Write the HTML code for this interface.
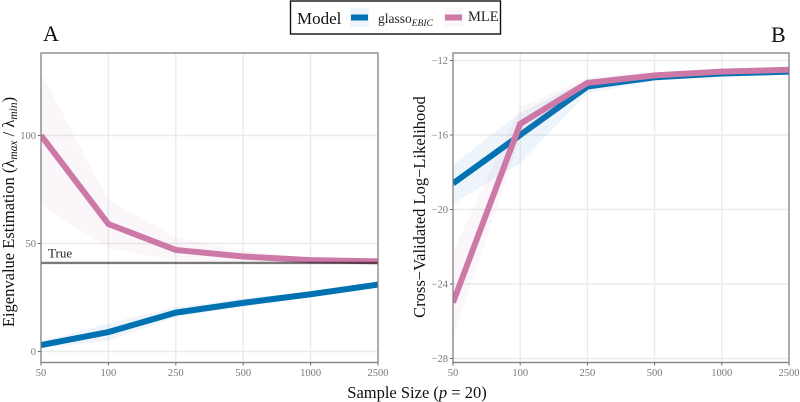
<!DOCTYPE html>
<html><head><meta charset="utf-8"><title>Eigenvalue estimation and log-likelihood</title>
<style>
html,body{margin:0;padding:0;background:#fff;width:800px;height:402px;overflow:hidden}
svg{display:block;font-family:"Liberation Serif",serif;filter:blur(0.35px)}
</style></head>
<body>
<svg id="chart" width="800" height="402" viewBox="0 0 800 402" xmlns="http://www.w3.org/2000/svg">
<defs>
<clipPath id="clip-a"><rect x="41" y="53" width="337" height="309.5"/></clipPath>
<clipPath id="clip-b"><rect x="453" y="53" width="336" height="309.5"/></clipPath>
</defs>
<g>
<rect x="290.5" y="1" width="210" height="33" fill="#fff" stroke="#111" stroke-width="1.4"/>
<text x="297" y="24" font-size="17" fill="#111">Model</text>
<rect x="350" y="8" width="19" height="19" fill="#0072b2" opacity="0.07"/>
<rect x="351" y="14.5" width="17" height="6" fill="#0072b2"/>
<text x="378" y="23" font-size="13.5" fill="#222">glasso<tspan font-size="9.5" font-style="italic" dy="3">EBIC</tspan></text>
<rect x="444" y="8" width="19" height="19" fill="#cc79a7" opacity="0.07"/>
<rect x="445" y="14.5" width="17" height="6" fill="#cc79a7"/>
<text x="468" y="21" font-size="14.5" fill="#222">MLE</text>
</g>
<text x="43" y="41" font-size="22" fill="#111">A</text>
<text x="771" y="42" font-size="22" fill="#111">B</text>
<text transform="translate(14,212) rotate(-90)" text-anchor="middle" font-size="16.5" fill="#111">Eigenvalue Estimation (λ<tspan font-size="11.5" font-style="italic" dy="3">max</tspan><tspan dy="-3"> / λ</tspan><tspan font-size="11.5" font-style="italic" dy="3">min</tspan><tspan dy="-3">)</tspan></text>
<text transform="translate(425,207) rotate(-90)" text-anchor="middle" font-size="16.5" fill="#111">Cross−Validated Log−Likelihood</text>
<text x="417" y="398" text-anchor="middle" font-size="16.5" fill="#111">Sample Size (<tspan font-style="italic">p</tspan> = 20)</text>
<g id="plot-a"></g>
<g id="plot-b"></g>
</svg>
<script>
var sampleSizes = ['50', '100', '250', '500', '1000', '2500'];
var eigenTicks = [0, 50, 100];
var eigenTrue = 41;
var eigenGlasso = [3, 9, 18, 22.5, 26.5, 31];
var eigenGlassoLow = [1.5, 5, 16, 21, 25.3, 30];
var eigenGlassoHigh = [4.5, 13, 20.5, 24.5, 28, 32];
var eigenMle = [100, 59, 47, 44, 42.3, 41.7];
var eigenMleLow = [68, 48, 42, 41.3, 41, 41];
var eigenMleHigh = [129, 70, 53, 46.5, 43.5, 42.5];
var llTicks = [-12, -16, -20, -24, -28];
var llGlasso = [-18.6, -16, -13.4, -12.9, -12.7, -12.6];
var llGlassoLow = [-19.7, -17.5, -13.75, -13.1, -12.8, -12.65];
var llGlassoHigh = [-17.6, -14.8, -13.05, -12.75, -12.6, -12.5];
var llMle = [-25, -15.4, -13.2, -12.8, -12.6, -12.5];
var llMleLow = [-26.9, -16.2, -13.5, -12.95, -12.7, -12.6];
var llMleHigh = [-22.3, -14.5, -12.9, -12.65, -12.5, -12.4];

var NS = 'http://www.w3.org/2000/svg';
var GLASSO_COLOR = '#0072b2';
var MLE_COLOR = '#cc79a7';

function make(parent, tag, attrs, text) {
  var el = document.createElementNS(NS, tag);
  for (var k in attrs) el.setAttribute(k, attrs[k]);
  if (text !== undefined) el.textContent = text;
  parent.appendChild(el);
  return el;
}
function pointsOf(values, x, y) {
  return values.map(function (v, i) { return x(i).toFixed(2) + ',' + y(v).toFixed(2); });
}
function drawSeries(parent, key, color, values, low, high, x, y, clip) {
  var ribbon = make(parent, 'polygon', {
    points: pointsOf(high, x, y).concat(pointsOf(low, x, y).reverse()).join(' '),
    fill: color, opacity: 0.07, 'clip-path': clip
  });
  
  
  var line = make(parent, 'polyline', {
    points: pointsOf(values, x, y).join(' '),
    fill: 'none', stroke: color, 'stroke-width': 6, 'stroke-linejoin': 'miter', 'clip-path': clip
  });
  
  
}
function drawPanel(root, prefix, left, right, top, bottom, x, y, yTicks, labelFor) {
  var bg = make(root, 'rect', { x: left, y: top, width: right - left, height: bottom - top, fill: '#fff' });
  
  
  sampleSizes.forEach(function (label, i) {
    if (i > 0 && i < sampleSizes.length - 1) {
      var gx = make(root, 'line', { x1: x(i), x2: x(i), y1: top, y2: bottom, stroke: '#ebebeb', 'stroke-width': 1.4 });
      
      
    }
    var tick = make(root, 'line', { x1: x(i), x2: x(i), y1: bottom, y2: bottom + 3, stroke: '#666', 'stroke-width': 1 });
    
    
    var text = make(root, 'text', { x: x(i), y: bottom + 13.5, 'text-anchor': 'middle', 'font-size': 10.5, fill: '#777' }, label);
    
    
  });
  yTicks.forEach(function (v) {
    var gy = make(root, 'line', { x1: left, x2: right, y1: y(v), y2: y(v), stroke: '#ebebeb', 'stroke-width': 1.4 });
    
    
    var tick = make(root, 'line', { x1: left - 3, x2: left, y1: y(v), y2: y(v), stroke: '#666', 'stroke-width': 1 });
    
    
    var text = make(root, 'text', { x: left - 5, y: y(v) + 3.5, 'text-anchor': 'end', 'font-size': 10.5, fill: '#777' }, labelFor(v));
    
    
  });
}
function drawBorder(root, prefix, left, right, top, bottom) {
  var border = make(root, 'rect', { x: left, y: top, width: right - left, height: bottom - top, fill: 'none', stroke: '#7f7f7f', 'stroke-width': 1.3 });
  
  
}

/* Panel A */
var rootA = document.getElementById('plot-a');
var xA = function (i) { return 41 + i * (378 - 41) / (sampleSizes.length - 1); };
var yA = function (v) { return 351.5 - v * 2.16; };
drawPanel(rootA, 'panel-a', 41, 378, 53, 362.5, xA, yA, eigenTicks, function (v) { return String(v); });
drawSeries(rootA, 'eigen-glasso', GLASSO_COLOR, eigenGlasso, eigenGlassoLow, eigenGlassoHigh, xA, yA, 'url(#clip-a)');
drawSeries(rootA, 'eigen-mle', MLE_COLOR, eigenMle, eigenMleLow, eigenMleHigh, xA, yA, 'url(#clip-a)');
var trueLine = make(rootA, 'line', { x1: 41, x2: 378, y1: yA(eigenTrue), y2: yA(eigenTrue), stroke: '#7a7a7a', 'stroke-width': 2.4, style: 'mix-blend-mode:multiply' });


var trueLabel = make(rootA, 'text', { x: 48, y: yA(eigenTrue) - 5.5, 'font-size': 13, fill: '#222' }, 'True');


drawBorder(rootA, 'panel-a', 41, 378, 53, 362.5);

/* Panel B */
var rootB = document.getElementById('plot-b');
var xB = function (i) { return 453 + i * (789 - 453) / (sampleSizes.length - 1); };
var yB = function (v) { return 60.5 + (-12 - v) * 18.625; };
drawPanel(rootB, 'panel-b', 453, 789, 53, 362.5, xB, yB, llTicks, function (v) { return '−' + Math.abs(v); });
drawSeries(rootB, 'loglik-glasso', GLASSO_COLOR, llGlasso, llGlassoLow, llGlassoHigh, xB, yB, 'url(#clip-b)');
drawSeries(rootB, 'loglik-mle', MLE_COLOR, llMle, llMleLow, llMleHigh, xB, yB, 'url(#clip-b)');
drawBorder(rootB, 'panel-b', 453, 789, 53, 362.5);
</script>
</body></html>
